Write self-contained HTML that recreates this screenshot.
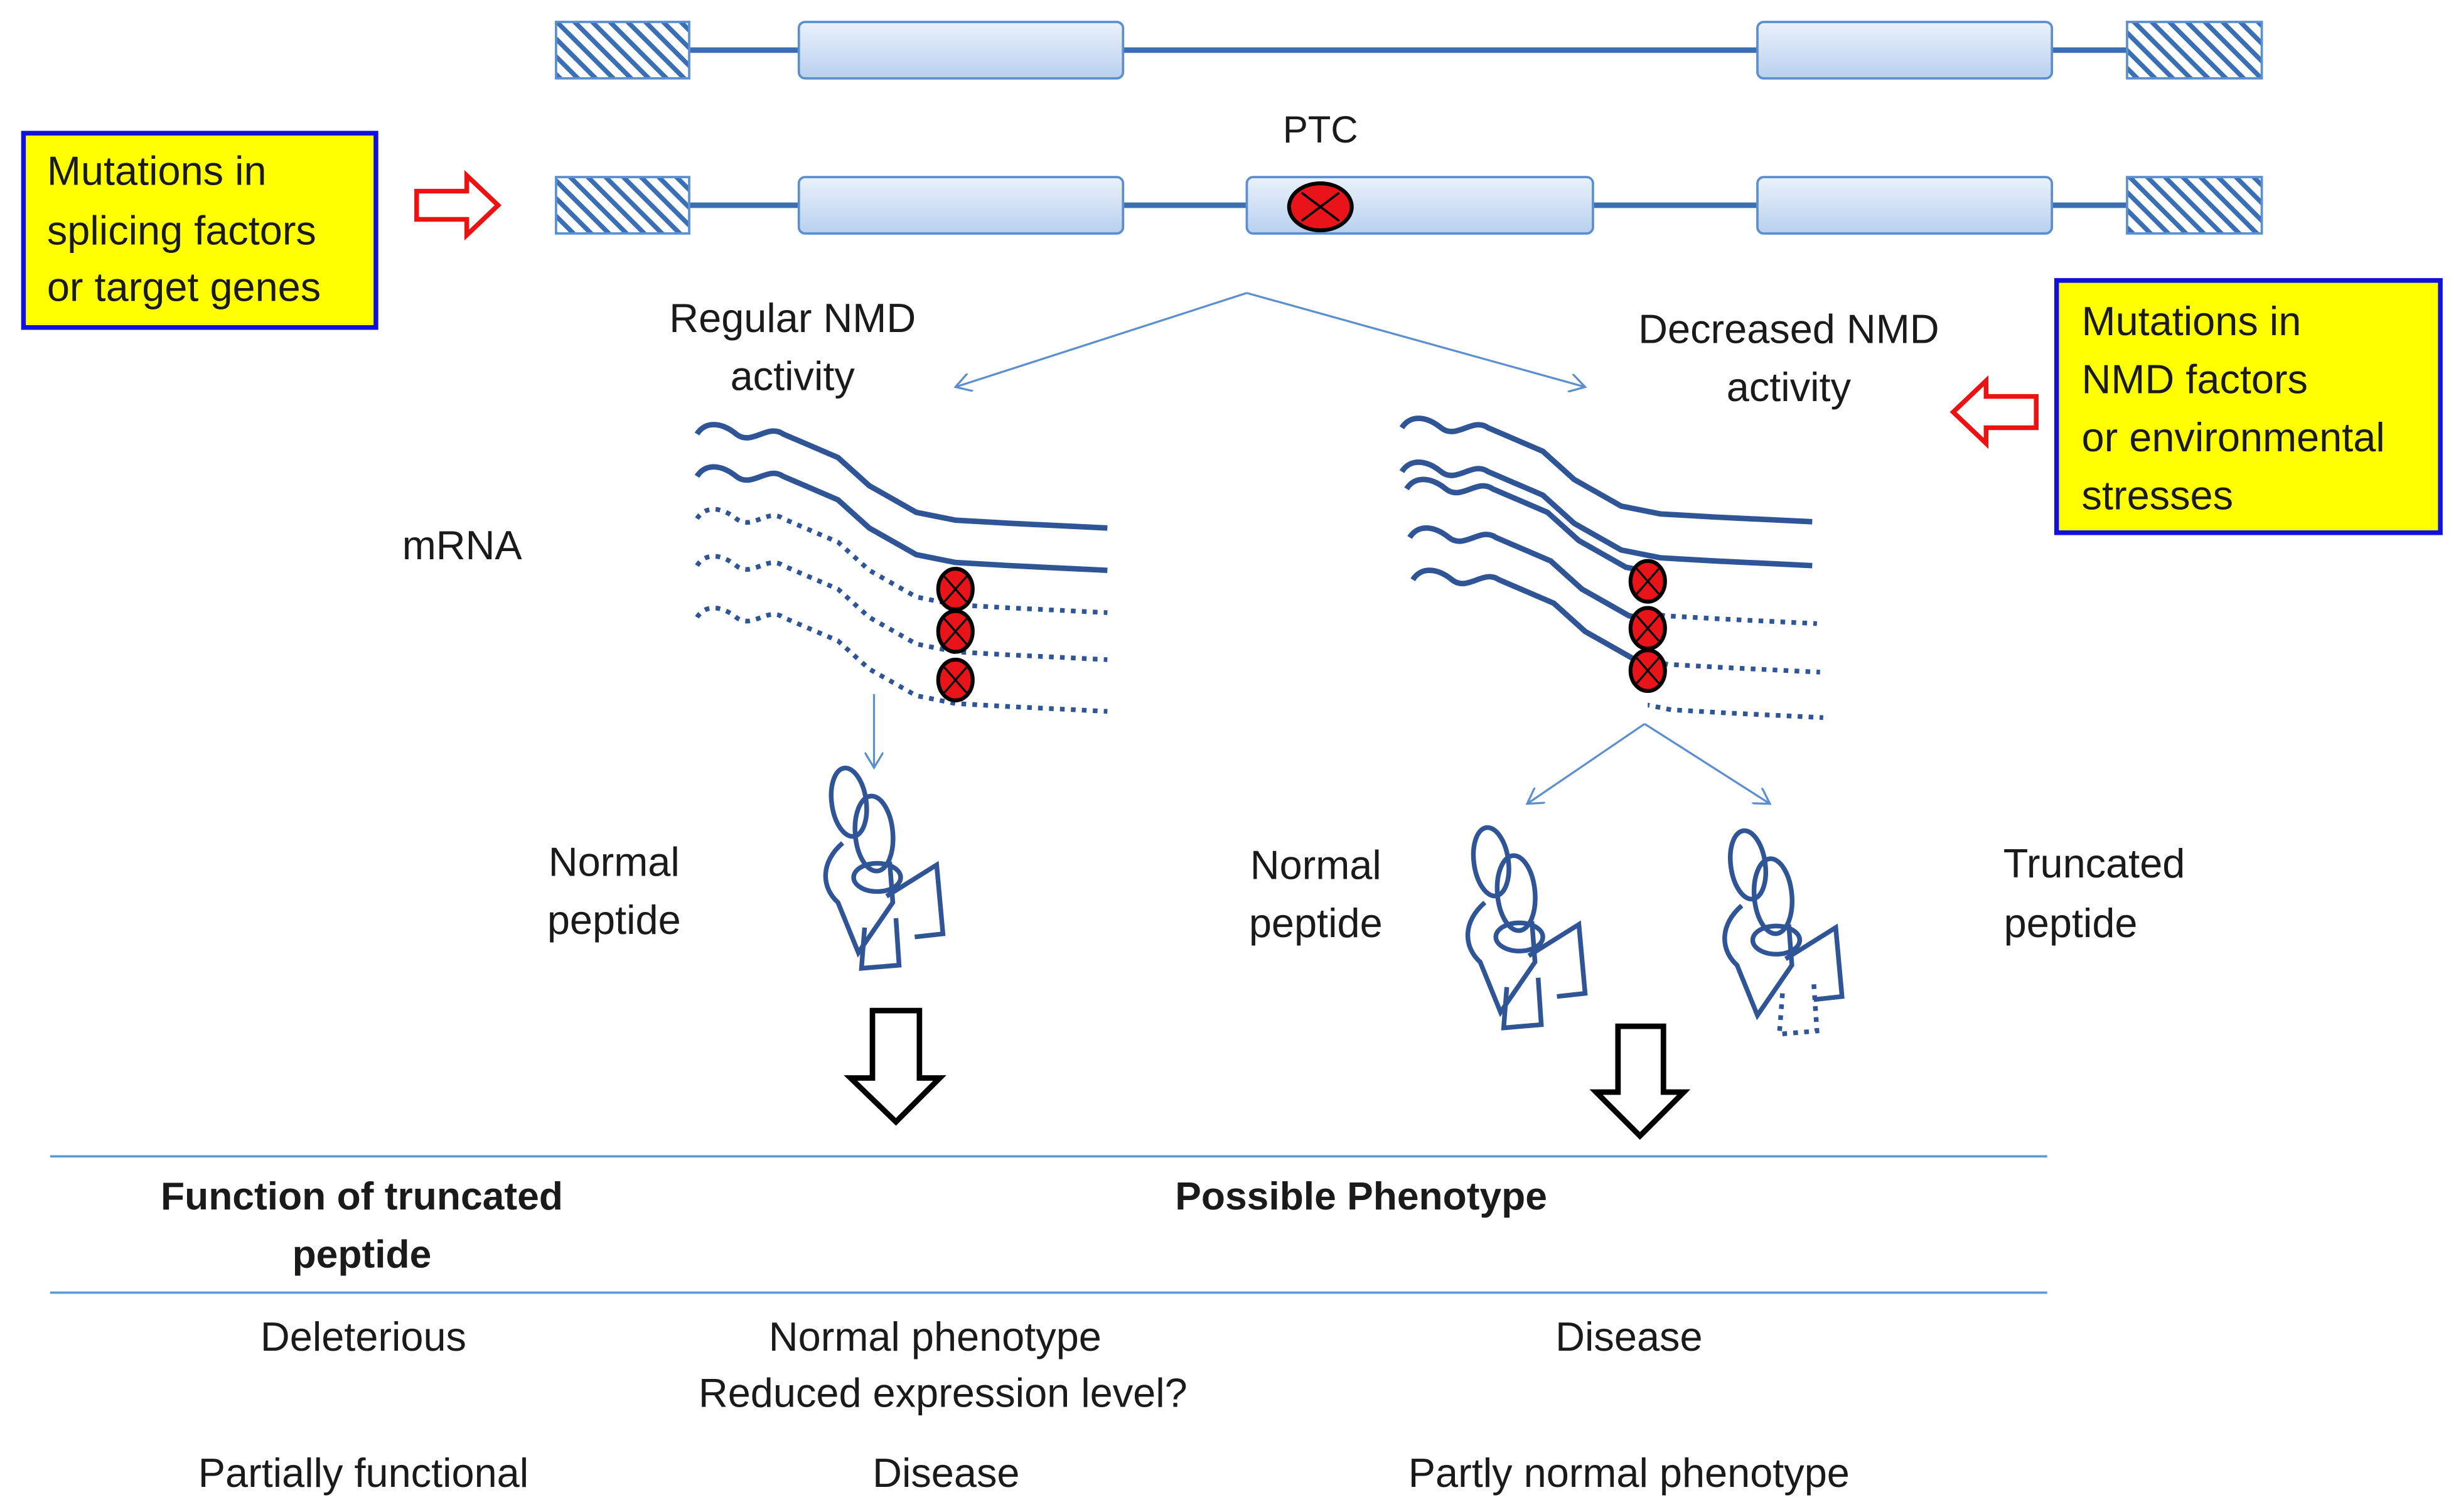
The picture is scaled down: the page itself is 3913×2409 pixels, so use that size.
<!DOCTYPE html>
<html><head><meta charset="utf-8"><style>html,body{margin:0;padding:0;background:#fff}svg{display:block}text{font-family:"Liberation Sans",sans-serif;fill:#1a1a1a}</style></head>
<body>
<svg width="3913" height="2409" viewBox="0 0 1568 965" preserveAspectRatio="none" xmlns="http://www.w3.org/2000/svg">
<defs>
<pattern id="h" width="8" height="8" patternUnits="userSpaceOnUse" patternTransform="rotate(-45)"><rect width="8" height="8" fill="#fff"/><rect width="3" height="8" fill="#3a6fb5"/></pattern>
<linearGradient id="ex" x1="0" y1="0" x2="0" y2="1"><stop offset="0" stop-color="#eaf2fc"/><stop offset="1" stop-color="#b8d0ee"/></linearGradient>
<marker id="oa" markerWidth="12" markerHeight="12" refX="10" refY="6" orient="auto" markerUnits="userSpaceOnUse"><path d="M0,0 L10,6 L0,12" fill="none" stroke="#5b8fd0" stroke-width="1.3"/></marker>
<g id="mr"><path d="M0,5 C5,-3 15,-3 25,5 S45,-2 55,5 L90,20 L110,38 L140,55 L165,60 L200,62 L262,65" fill="none"/></g>
</defs>
<g stroke="#3a6fb5">
<line x1="440" y1="32" x2="1358" y2="32" stroke-width="3.5"/>
<line x1="440" y1="131" x2="1358" y2="131" stroke-width="3.5"/>
</g>
<g stroke="#5b8fd0" stroke-width="1.5">
<rect x="355" y="14" width="85" height="36" fill="url(#h)"/><rect x="1358" y="14" width="86" height="36" fill="url(#h)"/>
<rect x="510" y="14" width="207" height="36" rx="4" fill="url(#ex)"/><rect x="1122" y="14" width="188" height="36" rx="4" fill="url(#ex)"/>
<rect x="355" y="113" width="85" height="36" fill="url(#h)"/><rect x="1358" y="113" width="86" height="36" fill="url(#h)"/>
<rect x="510" y="113" width="207" height="36" rx="4" fill="url(#ex)"/><rect x="796" y="113" width="221" height="36" rx="4" fill="url(#ex)"/><rect x="1122" y="113" width="188" height="36" rx="4" fill="url(#ex)"/>
</g>
<ellipse cx="843" cy="132" rx="20" ry="15" fill="#e8141a" stroke="#000" stroke-width="2.5"/><path d="M831,123 L855,141 M855,123 L831,141" stroke="#000" stroke-width="1.5"/>
<text x="843" y="91" font-size="24" text-anchor="middle">PTC</text>
<rect x="15" y="85" width="225" height="124" fill="#ffff00" stroke="#1010e0" stroke-width="3"/>
<g font-size="26"><text x="30" y="118">Mutations in</text><text x="30" y="156">splicing factors</text><text x="30" y="192">or target genes</text></g>
<rect x="1313" y="179" width="245" height="161" fill="#ffff00" stroke="#1010e0" stroke-width="3"/>
<g font-size="26"><text x="1329" y="214">Mutations in</text><text x="1329" y="251">NMD factors</text><text x="1329" y="288">or environmental</text><text x="1329" y="325">stresses</text></g>
<path d="M266,122 L298,122 L298,112 L318,131 L298,150 L298,140 L266,140 Z" fill="#fff" stroke="#ee1111" stroke-width="3"/>
<path d="M1300,253 L1268,253 L1268,243 L1247,263 L1268,283 L1268,273 L1300,273 Z" fill="#fff" stroke="#ee1111" stroke-width="3"/>
<g stroke="#5b8fd0" stroke-width="1.3" fill="none">
<line x1="796" y1="187" x2="610" y2="247" marker-end="url(#oa)"/><line x1="796" y1="187" x2="1012" y2="247" marker-end="url(#oa)"/>
<line x1="558" y1="443" x2="558" y2="490" marker-end="url(#oa)"/>
<line x1="1050" y1="462" x2="975" y2="513" marker-end="url(#oa)"/><line x1="1050" y1="462" x2="1130" y2="513" marker-end="url(#oa)"/>
</g>
<g font-size="26" text-anchor="middle"><text x="506" y="212">Regular NMD</text><text x="506" y="249">activity</text><text x="1142" y="219">Decreased NMD</text><text x="1142" y="256">activity</text>
<text x="295" y="357">mRNA</text></g>
<g stroke="#2f5597" stroke-width="3.5" fill="none">
<use href="#mr" transform="translate(445,272)"/><use href="#mr" transform="translate(445,299)"/>
</g>
<g stroke="#2f5597" stroke-width="3" fill="none" stroke-dasharray="3,4">
<use href="#mr" transform="translate(445,326)"/><use href="#mr" transform="translate(445,356)"/><use href="#mr" transform="translate(445,389)"/>
</g>
<g stroke="#2f5597" stroke-width="3.5" fill="none">
<use href="#mr" transform="translate(895,268)"/><use href="#mr" transform="translate(895,296)"/>
</g>
<clipPath id="cl"><rect x="880" y="300" width="172" height="200"/></clipPath>
<clipPath id="cr"><rect x="1052" y="300" width="130" height="200"/></clipPath>
<g stroke="#2f5597" stroke-width="3.5" fill="none" clip-path="url(#cl)">
<use href="#mr" transform="translate(898,307)"/><use href="#mr" transform="translate(900,338)"/><use href="#mr" transform="translate(902,365)"/>
</g>
<g stroke="#2f5597" stroke-width="3" fill="none" stroke-dasharray="3,4" clip-path="url(#cr)">
<use href="#mr" transform="translate(898,333)"/><use href="#mr" transform="translate(900,364)"/><use href="#mr" transform="translate(902,393)"/>
</g>
<g fill="#e8141a" stroke="#000" stroke-width="2.5">
<ellipse cx="610" cy="376" rx="11" ry="13"/><ellipse cx="610" cy="403" rx="11" ry="13"/><ellipse cx="610" cy="434" rx="11" ry="13"/>
<ellipse cx="1052" cy="371" rx="11" ry="13"/><ellipse cx="1052" cy="401" rx="11" ry="13"/><ellipse cx="1052" cy="428" rx="11" ry="13"/>
</g>
<g stroke="#000" stroke-width="1.3">
<path d="M603,368 L617,384 M617,368 L603,384 M603,395 L617,411 M617,395 L603,411 M603,426 L617,442 M617,426 L603,442"/>
<path d="M1045,363 L1059,379 M1059,363 L1045,379 M1045,393 L1059,409 M1059,393 L1045,409 M1045,420 L1059,436 M1059,420 L1045,436"/>
</g>
<defs><g id="prot">
<ellipse cx="16" cy="22" rx="11" ry="22" transform="rotate(-8 16 22)"/>
<ellipse cx="32" cy="42" rx="12" ry="24" transform="rotate(-5 32 42)"/>
<path d="M12,48 C-2,60 -2,76 9,86 L22,118 L44,86 L42,60"/>
<ellipse cx="34" cy="70" rx="15" ry="9"/>
<path d="M40,82 L72,62 L76,106 L58,108"/>
</g>
<g id="stem"><path d="M26,102 L24,128 L48,126 L46,96"/></g></defs>
<g stroke="#2f5597" stroke-width="3" fill="none">
<g transform="translate(526,490)"><use href="#prot"/><use href="#stem"/></g>
<g transform="translate(936,528)"><use href="#prot"/><use href="#stem"/></g>
<g transform="translate(1100,530)"><use href="#prot"/><use href="#stem" stroke-dasharray="3,4" transform="translate(12,2)"/></g>
</g>
<g font-size="26" text-anchor="middle"><text x="392" y="559">Normal</text><text x="392" y="596">peptide</text><text x="840" y="561">Normal</text><text x="840" y="598">peptide</text><text x="1337" y="560">Truncated</text><text x="1322" y="598">peptide</text></g>
<path d="M557,645 L587,645 L587,688 L600,688 L572,716 L543,688 L557,688 Z" fill="#fff" stroke="#000" stroke-width="3.5"/>
<path d="M1033,655 L1062,655 L1062,697 L1075,697 L1047,725 L1019,697 L1033,697 Z" fill="#fff" stroke="#000" stroke-width="3.5"/>
<line x1="32" y1="738" x2="1307" y2="738" stroke="#5b9bd5" stroke-width="1.5"/>
<line x1="32" y1="825" x2="1307" y2="825" stroke="#5b9bd5" stroke-width="1.5"/>
<g font-size="25" text-anchor="middle" font-weight="bold"><text x="231" y="772">Function of truncated</text><text x="231" y="809">peptide</text><text x="869" y="772">Possible Phenotype</text></g>
<g font-size="26" text-anchor="middle"><text x="232" y="862">Deleterious</text><text x="597" y="862">Normal phenotype</text><text x="602" y="898">Reduced expression level?</text><text x="1040" y="862">Disease</text>
<text x="232" y="949">Partially functional</text><text x="604" y="949">Disease</text><text x="1040" y="949">Partly normal phenotype</text></g>
</svg>
</body></html>
